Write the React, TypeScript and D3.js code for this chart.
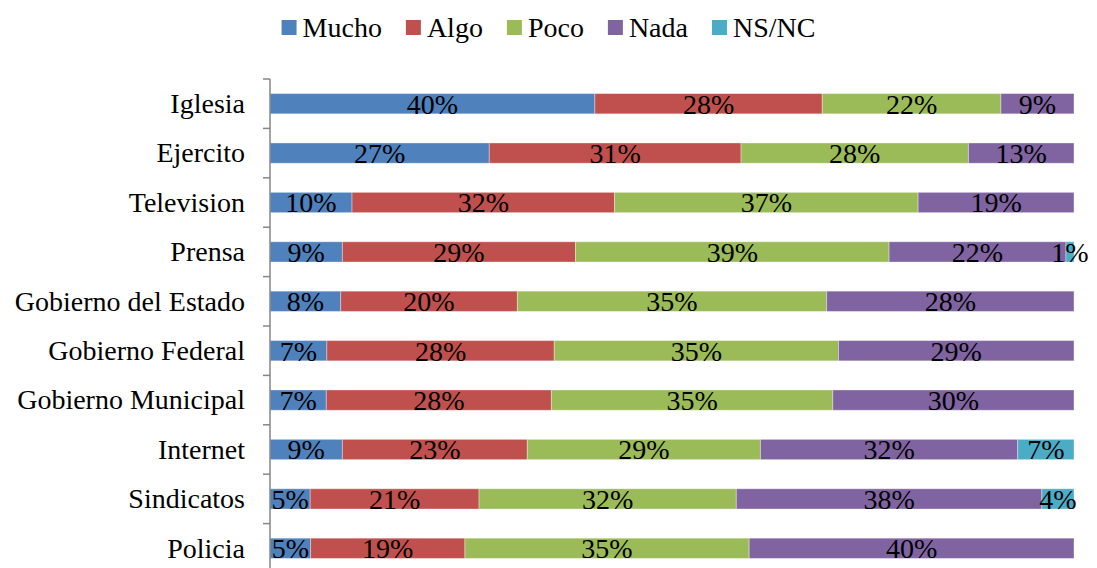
import * as d3 from "d3";

const width = 1097;
const height = 568;
const margin = { top: 79, right: 23, bottom: -5, left: 270 };

const categories = [
  "Iglesia",
  "Ejercito",
  "Television",
  "Prensa",
  "Gobierno del Estado",
  "Gobierno Federal",
  "Gobierno Municipal",
  "Internet",
  "Sindicatos",
  "Policia",
];

const seriesNames = ["Mucho", "Algo", "Poco", "Nada", "NS/NC"];
const colors = ["#4F81BD", "#C0504D", "#9BBB59", "#8064A2", "#4BACC6"];

const mucho = [40, 27, 10, 9, 8, 7, 7, 9, 5, 5];
const algo = [28, 31, 32, 29, 20, 28, 28, 23, 21, 19];
const poco = [22, 28, 37, 39, 35, 35, 35, 29, 32, 35];
const nada = [9, 13, 19, 22, 28, 29, 30, 32, 38, 40];
const nsnc = [0, 0, 0, 1, 0, 0, 0, 7, 4, 0];

const FONT = '"Liberation Serif", "Times New Roman", Times, serif';
const FS = 28;

function measure(text: string) {
  const ctx = document.createElement("canvas").getContext("2d");
  if (!ctx) return text.length * FS * 0.5;
  ctx.font = `${FS}px ${FONT}`;
  return ctx.measureText(text).width;
}

export default function App() {
  const rows = categories.map((c, i) => ({
    category: c,
    Mucho: mucho[i],
    Algo: algo[i],
    Poco: poco[i],
    Nada: nada[i],
    "NS/NC": nsnc[i],
  }));

  // 100% stacked: each row normalised to its own total
  const stacked = d3
    .stack<any>()
    .keys(seriesNames)
    .offset(d3.stackOffsetExpand)(rows);

  const xScale = d3
    .scaleLinear()
    .domain([0, 1])
    .range([margin.left, width - margin.right]);

  const yScale = d3
    .scaleBand()
    .domain(categories)
    .range([margin.top, height - margin.bottom])
    .paddingInner(0.59)
    .paddingOuter(0.295);

  const step = yScale.step();
  const bandStart = yScale.range()[0];
  const tickYs = d3.range(categories.length + 1).map(i => bandStart + i * step);

  // legend layout
  const sq = 15;
  const gap = 24;
  const items = seriesNames.map(n => ({ name: n, w: sq + 6 + measure(n) }));
  const totalW = d3.sum(items, d => d.w) + gap * (items.length - 1);
  let lx = width / 2 - totalW / 2;
  const legendItems = items.map(it => {
    const x = lx;
    lx += it.w + gap;
    return { ...it, x };
  });

  return (
    <svg
      width={width}
      height={height}
      style={{ position: "absolute", left: 0, top: 0, background: "#fff", fontFamily: FONT }}
    >
      {/* Legend */}
      {legendItems.map((it, i) => (
        <g key={it.name}>
          <rect x={it.x} y={20} width={sq} height={sq} fill={colors[i]} />
          <text x={it.x + sq + 6} y={37} fontSize={FS} fill="#000">
            {it.name}
          </text>
        </g>
      ))}

      {/* Bars */}
      {stacked.map((s, si) =>
        s.map((d, i) => {
          const v = rows[i][s.key as keyof typeof rows[number]] as number;
          if (!v) return null;
          const x0 = xScale(d[0]);
          const x1 = xScale(d[1]);
          const y = yScale(categories[i])!;
          return (
            <rect
              key={s.key + i}
              x={x0}
              y={y}
              width={x1 - x0}
              height={yScale.bandwidth()}
              fill={colors[si]}
              stroke="#ffffff"
              strokeOpacity={0.35}
              strokeWidth={1}
            />
          );
        })
      )}

      {/* Value labels */}
      {stacked.map(s =>
        s.map((d, i) => {
          const v = rows[i][s.key as keyof typeof rows[number]] as number;
          if (!v) return null;
          const cx = (xScale(d[0]) + xScale(d[1])) / 2;
          const cy = yScale(categories[i])! + yScale.bandwidth() / 2;
          return (
            <text
              key={"l" + s.key + i}
              x={cx}
              y={cy}
              dy="0.35em"
              textAnchor="middle"
              fontSize={FS}
              fill="#000"
            >
              {v}%
            </text>
          );
        })
      )}

      {/* Category axis */}
      <line
        x1={margin.left}
        x2={margin.left}
        y1={bandStart}
        y2={height}
        stroke="#868686"
        strokeWidth={1.5}
      />
      {tickYs.map(t => (
        <line
          key={t}
          x1={margin.left - 7}
          x2={margin.left}
          y1={t}
          y2={t}
          stroke="#868686"
          strokeWidth={1.5}
        />
      ))}
      {categories.map(c => (
        <text
          key={c}
          x={margin.left - 25}
          y={yScale(c)! + yScale.bandwidth() / 2}
          dy="0.33em"
          textAnchor="end"
          fontSize={FS}
          fill="#000"
        >
          {c}
        </text>
      ))}
    </svg>
  );
}
